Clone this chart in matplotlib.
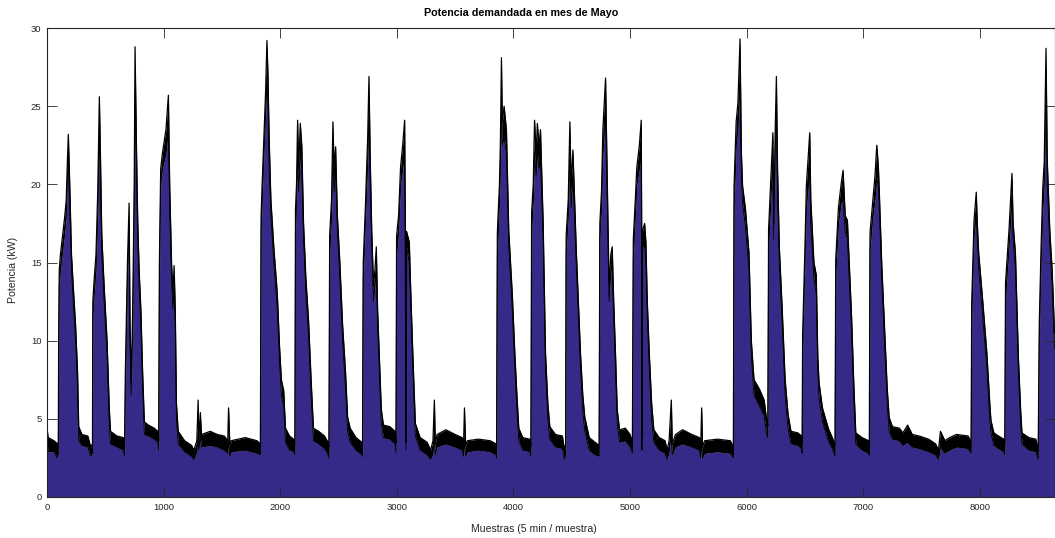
import matplotlib
matplotlib.use("Agg")
import matplotlib.pyplot as plt
import numpy as np

plt.rcParams['font.family'] = ['Liberation Sans', 'DejaVu Sans']

# Sample index (5-min samples) and envelope of the demanded power (kW)
muestra = [0, 10, 60, 90, 97, 100, 105, 115, 130, 150, 165, 175, 183, 195, 210, 225, 245, 262, 272, 300, 350, 375, 390,
           393, 405, 420, 435, 449, 458, 470, 490, 515, 535, 545, 600, 655, 665,
           672, 690, 704, 712, 722, 735, 748, 755, 768, 778, 790, 805, 820, 835, 870, 920, 950, 958,
           964, 975, 990, 1020, 1041, 1052, 1068, 1080, 1090, 1100, 1110, 1125, 1180, 1240, 1260, 1285, 1296, 1302, 1315, 1325,
           1400, 1460, 1520, 1550, 1557, 1568, 1580, 1700, 1800, 1830,
           1836, 1845, 1860, 1875, 1886, 1895, 1905, 1920, 1945, 1975, 1995, 2010, 2030, 2045, 2080, 2115, 2126,
           2131, 2140, 2149, 2158, 2172, 2185, 2200, 2220, 2243, 2265, 2285, 2330, 2380, 2410, 2418,
           2424, 2440, 2452, 2462, 2475, 2490, 2510, 2535, 2560, 2578, 2600, 2650, 2700, 2706,
           2712, 2730, 2750, 2761, 2772, 2785, 2800, 2812, 2824, 2835, 2850, 2867, 2885, 2940, 2985, 2993,
           2998, 3015, 3032, 3050, 3067, 3073, 3078, 3083, 3107, 3120, 3138, 3159, 3200, 3260, 3290, 3310, 3322, 3330, 3345,
           3420, 3500, 3560, 3572, 3580, 3590, 3605, 3700, 3800, 3850, 3856,
           3862, 3880, 3888, 3897, 3905, 3920, 3940, 3960, 3990, 4012, 4030, 4046, 4080, 4140, 4150,
           4156, 4170, 4181, 4195, 4205, 4220, 4232, 4255, 4275, 4295, 4312, 4360, 4420, 4438, 4448,
           4452, 4470, 4484, 4495, 4510, 4540, 4575, 4595, 4612, 4650, 4700, 4735,
           4741, 4755, 4767, 4790, 4803, 4820, 4835, 4847, 4860, 4876, 4890, 4910, 4960, 5000, 5020,
           5028, 5045, 5058, 5080, 5096, 5100, 5102, 5106, 5125, 5136, 5148, 5165, 5185, 5204, 5250, 5300, 5318, 5335, 5354, 5362,
           5390, 5450, 5530, 5595, 5606, 5614, 5622, 5640, 5750, 5860, 5886,
           5892, 5910, 5925, 5943, 5955, 5965, 5990, 6020, 6040, 6063, 6110, 6150, 6172, 6182,
           6188, 6210, 6225, 6232, 6245, 6255, 6265, 6280, 6305, 6330, 6355, 6380, 6440, 6470, 6476,
           6480, 6500, 6512, 6541, 6550, 6577, 6597, 6610, 6621, 6650, 6700, 6740, 6758,
           6764, 6787, 6810, 6827, 6845, 6864, 6900, 6920, 6936, 6990, 7045, 7052,
           7058, 7080, 7100, 7116, 7130, 7140, 7158, 7180, 7205, 7222, 7250, 7310, 7340, 7380, 7420, 7480, 7560, 7620, 7645,
           7662, 7700, 7740, 7800, 7900, 7925,
           7930, 7950, 7969, 7978, 7990, 8025, 8060, 8085, 8095, 8120, 8160, 8205, 8214,
           8220, 8250, 8275, 8285, 8305, 8330, 8350, 8361, 8420, 8480, 8500,
           8510, 8525, 8540, 8552, 8567, 8578, 8600, 8620, 8640]

pot_max = [4.4, 3.8, 3.6, 3.4, 3.5, 10.0, 14.5, 15.5, 16.5, 17.8, 19.0, 21.5, 23.2, 20.0, 15.5, 13.5, 11.0, 8.0, 4.5, 4.0, 3.9, 3.2, 3.4,
           12.5, 14.0, 15.5, 19.5, 25.6, 22.0, 16.7, 13.5, 10.0, 5.5, 4.2, 3.9, 3.8, 3.2,
           8.0, 15.0, 18.8, 11.0, 7.3, 12.0, 20.0, 28.8, 22.0, 17.7, 14.5, 12.0, 8.0, 4.8, 4.6, 4.4, 4.2, 3.6,
           15.0, 21.0, 22.0, 23.5, 25.7, 20.0, 15.0, 13.0, 14.8, 12.0, 6.0, 4.2, 3.6, 3.3, 3.0, 3.6, 6.2, 3.6, 5.4, 4.0,
           4.2, 4.0, 3.9, 3.6, 5.7, 3.3, 3.6, 3.8, 3.6, 3.4,
           18.0, 20.0, 23.0, 26.0, 29.2, 27.0, 23.0, 19.0, 16.0, 13.0, 9.5, 7.5, 6.8, 4.4, 3.9, 3.7, 3.4,
           18.4, 20.0, 24.1, 21.0, 23.9, 22.5, 17.5, 14.0, 11.3, 7.5, 4.4, 4.2, 3.9, 3.5, 3.2,
           16.7, 19.0, 24.0, 21.0, 22.4, 18.0, 15.2, 11.0, 8.0, 5.1, 4.4, 3.8, 3.5, 3.3,
           15.0, 18.5, 23.0, 26.9, 21.6, 17.0, 13.5, 14.5, 16.0, 12.0, 9.0, 5.6, 4.6, 4.5, 4.2, 3.5,
           16.7, 18.0, 21.1, 22.5, 24.1, 17.1, 3.5, 17.0, 16.3, 13.0, 9.0, 4.7, 3.8, 3.5, 3.0, 3.6, 6.2, 3.4, 4.0,
           4.3, 4.0, 3.8, 3.3, 5.7, 3.3, 3.6, 3.7, 3.6, 3.4, 3.1,
           16.9, 20.0, 22.6, 28.1, 24.0, 25.0, 23.5, 17.0, 13.0, 9.2, 6.5, 4.4, 3.8, 3.7, 3.3,
           18.2, 20.0, 24.1, 22.0, 23.9, 22.5, 23.5, 17.5, 9.2, 6.0, 4.5, 4.0, 3.9, 3.0, 3.4,
           16.7, 19.0, 24.0, 19.9, 22.2, 15.6, 9.2, 6.5, 5.1, 3.8, 3.5, 3.3,
           17.5, 19.5, 23.5, 26.8, 21.0, 13.5, 15.5, 16.0, 12.5, 9.0, 5.6, 4.3, 4.4, 4.0, 3.5,
           16.5, 19.0, 21.1, 22.5, 24.1, 17.0, 3.8, 17.0, 17.5, 16.3, 12.5, 9.2, 6.0, 4.3, 3.8, 3.6, 3.0, 3.6, 6.2, 3.4,
           4.0, 4.3, 4.0, 3.8, 3.2, 5.7, 3.2, 3.6, 3.7, 3.6, 3.2,
           19.9, 24.0, 25.2, 29.3, 22.0, 19.9, 18.4, 15.6, 10.0, 7.5, 6.9, 6.2, 4.9, 4.6,
           17.1, 20.7, 23.3, 17.5, 23.5, 26.9, 21.0, 16.0, 12.0, 7.5, 5.3, 4.2, 4.1, 3.9, 3.5,
           10.3, 16.0, 19.9, 23.3, 19.0, 15.0, 14.2, 9.0, 7.3, 5.7, 4.4, 3.7, 3.3,
           15.2, 18.5, 20.0, 20.9, 18.0, 17.7, 11.5, 7.0, 4.1, 3.8, 3.6, 3.3,
           16.9, 18.8, 20.5, 22.5, 21.1, 19.0, 15.0, 11.3, 7.0, 5.1, 4.5, 4.4, 4.1, 4.6, 4.0, 3.9, 3.7, 3.4, 3.0,
           4.2, 3.6, 3.8, 4.0, 3.9, 3.5,
           12.4, 17.7, 19.5, 17.5, 15.6, 12.5, 9.2, 6.0, 4.9, 4.1, 3.9, 3.7, 3.4,
           13.7, 17.1, 20.7, 17.5, 15.6, 9.0, 5.5, 4.1, 3.8, 3.7, 3.0,
           11.3, 16.0, 19.9, 21.4, 28.7, 21.5, 17.0, 14.5, 10.5]

pot_min = [3.4, 2.9, 2.9, 2.5, 2.8, 9.0, 13.5, 14.5, 15.5, 16.8, 18.0, 20.5, 21.5, 18.5, 14.5, 12.5, 10.0, 7.0, 3.6, 3.3, 3.2, 2.6, 2.8,
           11.5, 13.0, 14.5, 18.0, 23.5, 20.0, 15.5, 12.5, 9.0, 4.5, 3.4, 3.2, 3.0, 2.6,
           7.0, 14.0, 17.5, 10.0, 6.5, 11.0, 18.5, 26.0, 20.5, 16.5, 13.5, 11.0, 7.0, 4.0, 3.9, 3.7, 3.5, 3.0,
           14.0, 20.0, 21.0, 22.0, 23.5, 18.5, 14.0, 12.0, 13.5, 11.0, 5.0, 3.4, 2.9, 2.6, 2.4, 2.9, 4.0, 3.0, 3.8, 3.2,
           3.3, 3.2, 3.0, 2.8, 3.6, 2.6, 2.9, 3.0, 2.8, 2.7,
           17.0, 19.0, 22.0, 24.5, 27.0, 25.0, 21.0, 18.0, 15.0, 12.0, 8.5, 6.5, 5.8, 3.5, 3.0, 2.9, 2.7,
           17.0, 19.0, 22.0, 19.5, 22.0, 21.0, 16.5, 13.0, 10.3, 6.5, 3.6, 3.4, 3.1, 2.7, 2.5,
           15.5, 18.0, 22.0, 19.5, 21.0, 17.0, 14.2, 10.0, 7.0, 4.2, 3.5, 3.0, 2.7, 2.6,
           14.0, 17.5, 21.5, 24.5, 20.0, 16.0, 12.5, 13.5, 14.5, 11.0, 8.0, 4.7, 3.8, 3.7, 3.4, 2.8,
           15.5, 17.0, 20.0, 21.0, 22.0, 16.0, 3.0, 16.0, 15.0, 12.0, 8.0, 3.9, 3.0, 2.7, 2.4, 2.8, 4.0, 2.7, 3.2,
           3.4, 3.2, 3.0, 2.6, 3.6, 2.6, 2.9, 3.0, 2.9, 2.7, 2.5,
           15.5, 19.0, 21.0, 25.0, 22.5, 23.0, 22.0, 16.0, 12.0, 8.2, 5.5, 3.6, 3.0, 2.9, 2.6,
           17.0, 19.0, 22.0, 20.5, 22.0, 21.0, 21.5, 16.5, 8.2, 5.0, 3.7, 3.2, 3.1, 2.4, 2.7,
           15.5, 18.0, 22.0, 18.5, 20.5, 14.6, 8.2, 5.5, 4.2, 3.0, 2.7, 2.6,
           16.5, 18.5, 22.0, 24.5, 19.5, 12.5, 14.5, 14.5, 11.5, 8.0, 4.7, 3.5, 3.6, 3.2, 2.8,
           15.3, 18.0, 20.0, 21.0, 22.0, 16.0, 3.0, 16.0, 16.0, 15.0, 11.5, 8.2, 5.0, 3.5, 3.0, 2.8, 2.4, 2.9, 4.0, 2.7,
           3.2, 3.4, 3.2, 3.0, 2.5, 3.6, 2.5, 2.8, 2.9, 2.8, 2.5,
           18.5, 22.5, 23.5, 26.5, 20.5, 18.8, 17.3, 14.6, 9.0, 6.5, 5.8, 5.2, 4.0, 3.8,
           16.0, 19.5, 21.5, 16.5, 22.0, 24.5, 19.5, 15.0, 11.0, 6.5, 4.4, 3.4, 3.3, 3.1, 2.8,
           9.3, 15.0, 18.5, 21.0, 17.5, 14.0, 13.0, 8.0, 6.3, 4.8, 3.6, 3.0, 2.6,
           14.2, 17.5, 18.8, 19.0, 17.0, 16.5, 10.5, 6.0, 3.4, 3.0, 2.8, 2.6,
           15.8, 17.8, 19.0, 20.5, 19.8, 18.0, 14.0, 10.3, 6.0, 4.2, 3.7, 3.6, 3.3, 3.5, 3.2, 3.1, 2.9, 2.7, 2.4,
           3.2, 2.8, 3.0, 3.2, 3.1, 2.8,
           11.4, 16.7, 18.0, 16.5, 14.6, 11.5, 8.2, 5.0, 4.1, 3.3, 3.1, 2.9, 2.7,
           12.7, 16.0, 19.0, 16.5, 14.6, 8.0, 4.6, 3.4, 3.0, 2.9, 2.4,
           10.3, 15.0, 18.5, 20.0, 26.0, 20.0, 16.0, 13.5, 9.5]

fig = plt.figure(figsize=(10.55, 5.38), dpi=100)
ax = fig.add_axes([47 / 1055, 41 / 538, 1007.5 / 1055, 469 / 538])

ax.fill_between(muestra, 0, pot_min, color='#352a87', linewidth=0)
ax.fill_between(muestra, pot_min, pot_max, color='black', linewidth=0)
ax.plot(muestra, pot_max, color='black', linewidth=0.9)
ax.plot(muestra, pot_min, color='black', linewidth=0.6)

ax.set_xlim(0, 8640)
ax.set_ylim(0, 30)
ax.set_xticks(np.arange(0, 8001, 1000))
ax.set_yticks(np.arange(0, 31, 5))

ax.tick_params(direction='in', length=7.5, width=0.6, top=True, right=True,
               labelsize=6.8, colors='#262626', pad=4)
for sp in ax.spines.values():
    sp.set_linewidth(0.8)
    sp.set_color('#262626')

ax.set_title('Potencia demandada en mes de Mayo', fontsize=7.75, fontweight='bold',
             x=(521 - 47) / 1007.5, pad=9)
ax.set_xlabel('Muestras (5 min / muestra)', fontsize=7.55, color='#262626')
ax.xaxis.set_label_coords((534 - 47) / 1007.5, -0.058)
ax.set_ylabel('Potencia (kW)', fontsize=7.55, color='#262626')
ax.yaxis.set_label_coords((18 - 47) / 1007.5, (497 - 270) / 469)

fig.savefig('out.png', dpi=100)
